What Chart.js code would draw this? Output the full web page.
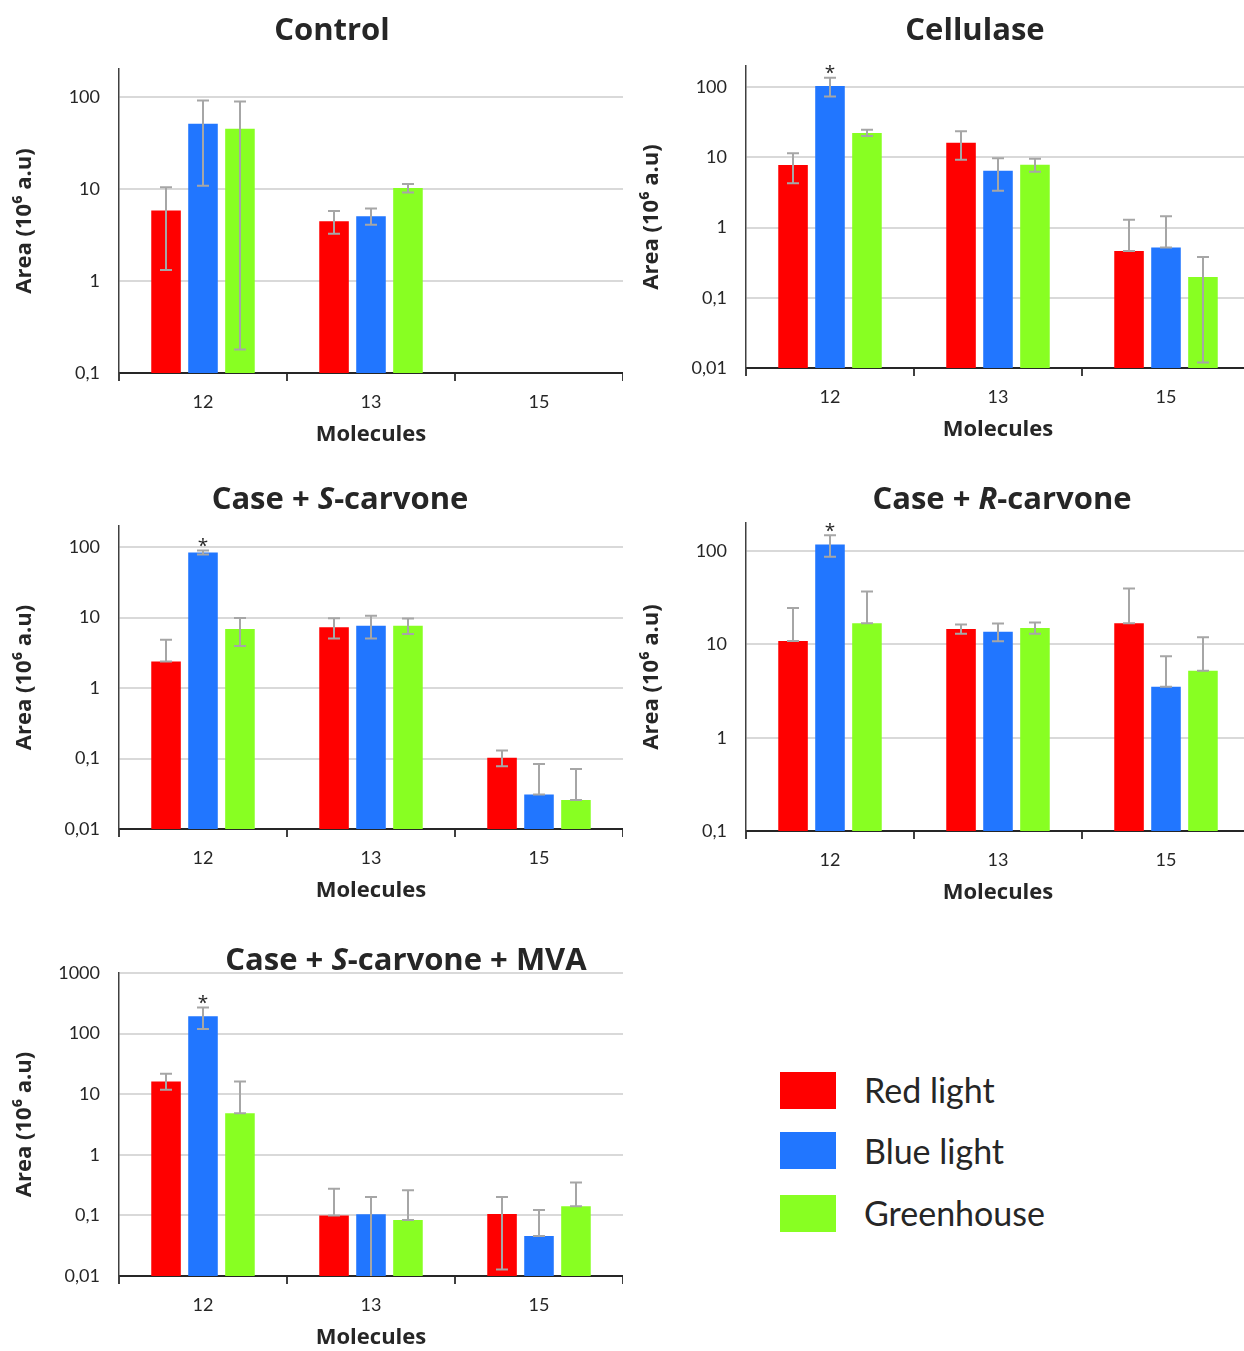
<!DOCTYPE html>
<html>
<head>
<meta charset="utf-8">
<script src="https://cdn.jsdelivr.net/npm/chart.js@4.4.1/dist/chart.umd.min.js"></script>
<style>
  html, body { margin: 0; padding: 0; background: #fff; overflow: hidden; }
  body { width: 1244px; height: 1351px; position: relative; font-family: Lato, "Open Sans", sans-serif; color: #262626; }
  canvas { position: absolute; }
  .title { position: absolute; font-family: "Open Sans", sans-serif; font-weight: 700; font-size: 31px; white-space: nowrap; transform: translate(-50%, -50%); line-height: 1; }
  .swatch { position: absolute; left: 780px; width: 56px; height: 37px; }
  .label { position: absolute; left: 864px; font-size: 34px; line-height: 1; transform: translateY(-50%); white-space: nowrap; }
</style>
</head>
<body>
<canvas id="control" width="623" height="411" style="left:0;top:37px"></canvas>
<canvas id="cellulase" width="623" height="409" style="left:627px;top:34px"></canvas>
<canvas id="sCarvone" width="623" height="410" style="left:0;top:494px"></canvas>
<canvas id="rCarvone" width="623" height="415" style="left:627px;top:491px"></canvas>
<canvas id="mva" width="623" height="410" style="left:0;top:941px"></canvas>

<div class="title" style="left:332px;top:28px">Control</div>
<div class="title" style="left:975px;top:28px">Cellulase</div>
<div class="title" style="left:340px;top:497px">Case + <i>S</i>-carvone</div>
<div class="title" style="left:1002px;top:497px">Case + <i>R</i>-carvone</div>
<div class="title" style="left:406px;top:958px">Case + <i>S</i>-carvone + MVA</div>

<div class="swatch" style="top:1072px;background:#ff0000"></div>
<div class="label" style="top:1090px">Red light</div>
<div class="swatch" style="top:1132px;background:#2176ff"></div>
<div class="label" style="top:1151px">Blue light</div>
<div class="swatch" style="top:1195px;background:#88ff22"></div>
<div class="label" style="top:1213px">Greenhouse</div>

<script>
const molecules = ['12', '13', '15'];
const lights = ['Red light', 'Blue light', 'Greenhouse'];
const colors = ['#ff0000', '#2176ff', '#88ff22'];

// each array: [red, blue, green] series, one value per molecule
const controlMean = [[5.8, 4.44, null], [50.8, 5.03, null], [44.8, 10.2, null]];
const controlHigh = [[10.4, 5.75, null], [91, 6.1, null], [89, 11.3, null]];
const controlLow = [[1.31, 3.26, null], [10.8, 4.06, null], [0.18, 9.1, null]];

const cellulaseMean = [[7.8, 16.2, 0.465], [104, 6.46, 0.519], [22.2, 7.86, 0.198]];
const cellulaseHigh = [[11.4, 23.5, 1.29], [136, 9.68, 1.45], [24.8, 9.57, 0.382]];
const cellulaseLow = [[4.26, 9.27, 0.465], [73.6, 3.35, 0.519], [20.1, 6.25, 0.012]];

const sCarvoneMean = [[2.39, 7.3, 0.103], [84, 7.7, 0.0308], [6.9, 7.7, 0.0258]];
const sCarvoneHigh = [[4.87, 9.8, 0.13], [89.7, 10.6, 0.084], [9.9, 9.7, 0.0713]];
const sCarvoneLow = [[2.39, 5.08, 0.078], [79, 5.08, 0.0308], [3.95, 5.86, 0.0258]];

const rCarvoneMean = [[10.9, 14.6, 16.8], [118, 13.7, 3.52], [16.8, 15, 5.22]];
const rCarvoneHigh = [[24.5, 16.3, 39.8], [148, 16.7, 7.44], [37, 17.2, 11.9]];
const rCarvoneLow = [[10.9, 13, 16.8], [87, 10.8, 3.52], [16.8, 13, 5.22]];

const mvaMean = [[16.2, 0.1, 0.105], [194, 0.104, 0.0458], [4.85, 0.0837, 0.141]];
const mvaHigh = [[21.7, 0.276, 0.201], [269, 0.201, 0.123], [16.2, 0.259, 0.348]];
const mvaLow = [[11.8, 0.1, 0.0128], [119, 0.005, 0.0458], [4.85, 0.0837, 0.141]];

// [series, molecule] of bars marked with *
const starred = [[1, 0]];

const errorBars = {
    id: 'errorBars',
    afterDatasetsDraw(chart, args, opts) {
        const ctx = chart.ctx;
        const area = chart.chartArea;
        const y = chart.scales.y;
        ctx.save();
        ctx.beginPath();
        ctx.rect(area.left, area.top - 40, area.right - area.left, area.bottom - area.top + 40);
        ctx.clip();
        ctx.strokeStyle = '#a6a6a6';
        ctx.lineWidth = 2;
        chart.data.datasets.forEach((ds, i) => {
            chart.getDatasetMeta(i).data.forEach((bar, j) => {
                if (ds.data[j] == null) return;
                const x = Math.round(bar.x);
                const top = y.getPixelForValue(ds.errHigh[j]);
                const bottom = y.getPixelForValue(ds.errLow[j]);
                ctx.beginPath();
                ctx.moveTo(x, top);
                ctx.lineTo(x, bottom);
                ctx.moveTo(x - 6, top);
                ctx.lineTo(x + 6, top);
                ctx.moveTo(x - 6, bottom);
                ctx.lineTo(x + 6, bottom);
                ctx.stroke();
            });
        });
        ctx.restore();

        ctx.save();
        ctx.fillStyle = '#262626';
        ctx.font = '19px "Open Sans"';
        ctx.textAlign = 'center';
        ctx.textBaseline = 'middle';
        (opts.stars || []).forEach(([s, j]) => {
            const bar = chart.getDatasetMeta(s).data[j];
            const top = y.getPixelForValue(chart.data.datasets[s].errHigh[j]);
            ctx.fillText('*', bar.x, top - 4);
        });
        ctx.restore();
    }
};

function drawChart(id, mean, high, low, min, max, stars) {
    const datasets = lights.map((name, i) => ({
        label: name,
        data: mean[i],
        errHigh: high[i],
        errLow: low[i],
        backgroundColor: colors[i],
        categoryPercentage: 0.66,
        barPercentage: 0.8
    }));

    return new Chart(document.getElementById(id), {
        type: 'bar',
        data: { labels: molecules, datasets: datasets },
        plugins: [errorBars],
        options: {
            responsive: false,
            animation: false,
            layout: { padding: { top: 32, right: 0, bottom: 0, left: 0 } },
            plugins: {
                legend: { display: false },
                tooltip: { enabled: false },
                errorBars: { stars: stars }
            },
            scales: {
                x: {
                    afterFit: (scale) => { scale.height = 75; },
                    grid: { drawOnChartArea: false, drawTicks: true, tickLength: 8, color: '#404040', lineWidth: 2, offset: true },
                    border: { display: true, color: '#262626', width: 2 },
                    ticks: { color: '#262626', font: { family: 'Lato', size: 18 }, padding: 10 },
                    title: { display: true, text: 'Molecules', color: '#262626', font: { family: 'Open Sans', size: 22, weight: 'bold' }, padding: { top: 0, bottom: 0 } }
                },
                y: {
                    type: 'logarithmic',
                    min: min,
                    max: max,
                    afterFit: (scale) => { scale.width = 119; },
                    afterBuildTicks: (scale) => {
                        const ticks = [];
                        for (let v = min; v <= max * 1.0001; v *= 10) ticks.push({ value: parseFloat(v.toPrecision(3)) });
                        scale.ticks = ticks;
                    },
                    grid: { color: '#d9d9d9', lineWidth: 2, drawTicks: false },
                    border: { display: true, color: '#404040', width: 1.5 },
                    ticks: {
                        color: '#262626',
                        font: { family: 'Lato', size: 18 },
                        padding: 19,
                        callback: (v) => String(v).replace('.', ',')
                    },
                    title: { display: true, text: 'Area (10⁶ a.u)', color: '#262626', font: { family: 'Open Sans', size: 22, weight: 'bold' }, padding: { top: 12, bottom: 0 } }
                }
            }
        }
    });
}

drawChart('control', controlMean, controlHigh, controlLow, 0.1, 200, []);
drawChart('cellulase', cellulaseMean, cellulaseHigh, cellulaseLow, 0.01, 200, starred);
drawChart('sCarvone', sCarvoneMean, sCarvoneHigh, sCarvoneLow, 0.01, 200, starred);
drawChart('rCarvone', rCarvoneMean, rCarvoneHigh, rCarvoneLow, 0.1, 200, starred);
drawChart('mva', mvaMean, mvaHigh, mvaLow, 0.01, 1000, starred);
</script>
</body>
</html>
